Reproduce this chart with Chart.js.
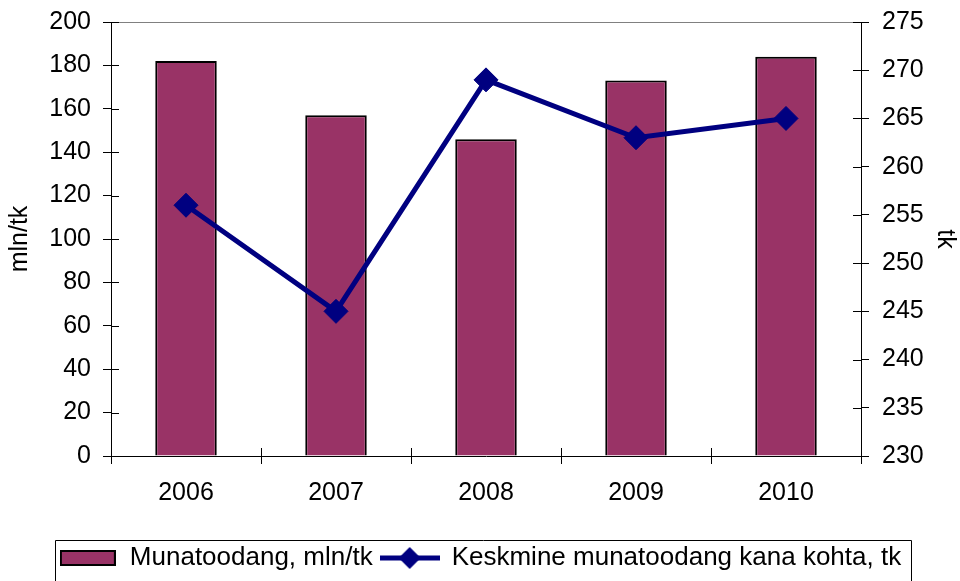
<!DOCTYPE html>
<html>
<head>
<meta charset="utf-8">
<script src="https://cdn.jsdelivr.net/npm/chart.js@4.4.1/dist/chart.umd.min.js"></script>
<style>
html, body { margin: 0; padding: 0; background: #fff; }
</style>
</head>
<body>
<canvas id="chart" width="960" height="581"></canvas>
<script>
// data
const years = ['2006', '2007', '2008', '2009', '2010'];
const production = [182, 157, 146, 173, 184];   // mln/tk
const perHen = [256, 245, 269, 263, 265];       // tk

const barColor = '#993366';
const lineColor = '#000080';
const fontFamily = '"Liberation Sans", Arial, sans-serif';

// legend symbols
function barSymbol() {
    const c = document.createElement('canvas');
    c.width = 56; c.height = 16;
    const g = c.getContext('2d');
    g.fillStyle = barColor;
    g.fillRect(1, 1, 54, 14);
    g.strokeStyle = '#000';
    g.lineWidth = 2;
    g.strokeRect(1, 1, 54, 14);
    return c;
}
function lineSymbol() {
    const c = document.createElement('canvas');
    c.width = 60; c.height = 24;
    const g = c.getContext('2d');
    g.strokeStyle = lineColor;
    g.lineWidth = 5;
    g.beginPath(); g.moveTo(0, 12); g.lineTo(60, 12); g.stroke();
    g.fillStyle = lineColor;
    g.beginPath();
    g.moveTo(30, 1); g.lineTo(41, 12); g.lineTo(30, 23); g.lineTo(19, 12);
    g.closePath(); g.fill();
    return c;
}

// ticks that cross the axis lines, top border, legend frame
const frame = {
    id: 'frame',
    afterDraw(chart) {
        const ctx = chart.ctx;
        const a = chart.chartArea;
        ctx.save();
        ctx.lineWidth = 1;
        ctx.strokeStyle = '#808080';
        ctx.beginPath();
        ctx.moveTo(a.left, a.top + 0.5); ctx.lineTo(a.right, a.top + 0.5);
        ctx.stroke();
        ctx.strokeStyle = '#000';
        ctx.beginPath();
        const y = chart.scales.y, y1 = chart.scales.y1, x = chart.scales.x;
        y.ticks.forEach(t => {
            const p = Math.round(y.getPixelForValue(t.value)) + 0.5;
            ctx.moveTo(a.left, p); ctx.lineTo(a.left + 8, p);
        });
        y1.ticks.forEach(t => {
            const p = Math.round(y1.getPixelForValue(t.value)) + 0.5;
            ctx.moveTo(a.right - 8, p); ctx.lineTo(a.right, p);
        });
        for (let i = 0; i <= years.length; i++) {
            const p = Math.round(x.getPixelForValue(i - 0.5)) + 0.5;
            ctx.moveTo(p, a.bottom); ctx.lineTo(p, a.bottom - 8);
        }
        ctx.stroke();
        const boxes = chart.legend.legendHitBoxes;
        if (boxes && boxes.length) {
            const first = boxes[0], last = boxes[boxes.length - 1];
            const l = first.left - 4, r = last.left + last.width + 10;
            const t = 540;
            ctx.beginPath();
            ctx.rect(Math.round(l) + 0.5, t + 0.5, Math.round(r - l), 80);
            ctx.stroke();
        }
        ctx.restore();
    }
};

function fixY(width) {
    return function (s) {
        s.width = width;
        s.paddingTop = 0;
        s.paddingBottom = 0;
    };
}

new Chart(document.getElementById('chart'), {
    data: {
        labels: years,
        datasets: [
            {
                type: 'line',
                label: 'Keskmine munatoodang kana kohta, tk',
                data: perHen,
                yAxisID: 'y1',
                borderColor: lineColor,
                backgroundColor: lineColor,
                borderWidth: 5,
                pointStyle: 'rectRot',
                pointRadius: 12,
                pointBorderWidth: 1,
                tension: 0,
                order: 0
            },
            {
                type: 'bar',
                label: 'Munatoodang, mln/tk',
                data: production,
                yAxisID: 'y',
                backgroundColor: barColor,
                borderColor: '#000',
                borderWidth: 2,
                categoryPercentage: 1,
                barPercentage: 0.41,
                order: 1
            }
        ]
    },
    options: {
        responsive: false,
        animation: false,
        layout: { padding: { top: 22, left: 0, right: 0, bottom: 0 } },
        plugins: {
            tooltip: { enabled: false },
            legend: {
                position: 'bottom',
                labels: {
                    color: '#000',
                    font: { family: fontFamily, size: 26 },
                    usePointStyle: true,
                    pointStyleWidth: 58,
                    padding: 8,
                    generateLabels() {
                        return [
                            { text: 'Munatoodang, mln/tk', pointStyle: barSymbol(), fontColor: '#000', datasetIndex: 1, lineWidth: 0, strokeStyle: 'transparent' },
                            { text: 'Keskmine munatoodang kana kohta, tk', pointStyle: lineSymbol(), fontColor: '#000', datasetIndex: 0, lineWidth: 0, strokeStyle: 'transparent' }
                        ];
                    }
                }
            }
        },
        scales: {
            x: {
                grid: { drawOnChartArea: false, offset: true, color: '#000', tickLength: 8 },
                border: { color: '#000', width: 1 },
                ticks: { color: '#000', font: { family: fontFamily, size: 25 }, padding: 14, maxRotation: 0 },
                afterFit(s) { s.height = s.chart.height - 456 - s.chart.legend.height; }
            },
            y: {
                position: 'left',
                min: 0, max: 200,
                ticks: { stepSize: 20, color: '#000', font: { family: fontFamily, size: 25 }, padding: 12 },
                grid: { drawOnChartArea: false, color: '#000', tickLength: 8 },
                border: { color: '#000', width: 1 },
                title: { display: true, text: 'mln/tk', color: '#000', font: { family: fontFamily, size: 25 }, padding: { top: 5, bottom: 0 } },
                afterFit: fixY(111)
            },
            y1: {
                position: 'right',
                min: 230, max: 275,
                ticks: { stepSize: 5, color: '#000', font: { family: fontFamily, size: 25 }, padding: 13 },
                grid: { drawOnChartArea: false, color: '#000', tickLength: 8 },
                border: { color: '#000', width: 1 },
                title: { display: true, text: 'tk', color: '#000', font: { family: fontFamily, size: 25 }, padding: 0 },
                afterFit: fixY(99)
            }
        }
    },
    plugins: [frame]
});
</script>
</body>
</html>
